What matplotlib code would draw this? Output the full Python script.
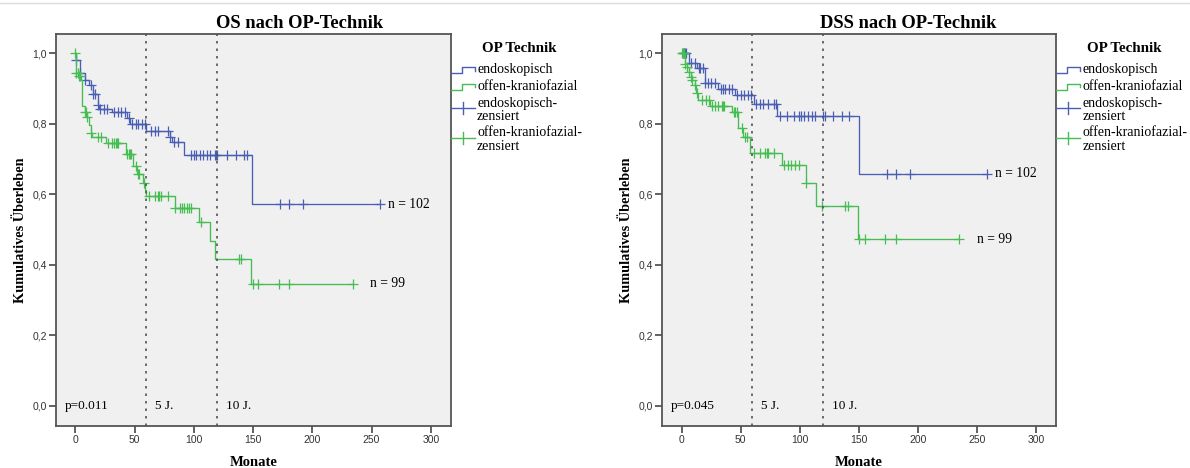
import numpy as np
import matplotlib.pyplot as plt
from matplotlib.lines import Line2D

W, H = 1190, 468

# ---- data ----
os_endo_t = [0, 1, 4, 8, 12, 15, 19, 20, 31, 44, 46, 60, 80, 82, 92, 149]
os_endo_s = [1.0, 0.98, 0.943, 0.924, 0.91, 0.886, 0.855, 0.843, 0.834, 0.816,
             0.80, 0.781, 0.764, 0.748, 0.712, 0.572]
os_endo_c = [1, 4, 8, 13, 15, 17, 19, 21, 24, 27, 33, 36, 39, 42, 45, 48, 51, 53,
             56, 59, 64, 67, 70, 78, 80, 83, 87, 98, 100, 102, 105, 108, 111, 114,
             118, 119, 120, 128, 136, 142, 145, 173, 180, 192, 257]

os_offen_t = [0, 1, 3, 5, 6, 8, 10, 12, 13, 14, 26, 43, 49, 52, 57, 59, 60, 84,
              104, 114, 118, 148]
os_offen_s = [1.0, 0.943, 0.935, 0.924, 0.85, 0.835, 0.82, 0.797, 0.773, 0.762,
              0.747, 0.715, 0.68, 0.658, 0.632, 0.613, 0.596, 0.562, 0.522, 0.469,
              0.417, 0.346]
os_offen_c = [0, 1, 2, 3, 4, 8, 9, 10, 13, 19, 22, 28, 31, 33, 34, 35, 36, 44, 45,
              46, 47, 51, 53, 54, 58, 62, 67, 70, 71, 72, 78, 84, 88, 90, 92, 94,
              96, 98, 106, 138, 140, 150, 154, 172, 180, 234]

dss_endo_t = [0, 6, 13, 20, 31, 45, 61, 81, 150]
dss_endo_s = [1.0, 0.972, 0.958, 0.915, 0.90, 0.882, 0.856, 0.822, 0.658]
dss_endo_c = [1, 2, 3, 4, 8, 11, 15, 16, 18, 20, 22, 25, 28, 33, 35, 37, 40, 43, 47,
              50, 53, 56, 59, 63, 66, 69, 73, 78, 80, 83, 89, 95, 99, 101, 104, 107,
              110, 113, 120, 121, 128, 136, 142, 174, 181, 193, 258]

dss_offen_t = [0, 3, 5, 6, 8, 9, 11, 12, 14, 24, 43, 48, 52, 58, 85, 105, 114, 149]
dss_offen_s = [1.0, 0.97, 0.962, 0.948, 0.934, 0.924, 0.91, 0.887, 0.868, 0.85,
               0.835, 0.787, 0.764, 0.718, 0.683, 0.631, 0.567, 0.473]
dss_offen_c = [0, 1, 2, 3, 5, 6, 8, 9, 11, 13, 17, 21, 23, 26, 28, 31, 34, 35, 36,
               44, 45, 47, 51, 54, 55, 61, 66, 71, 72, 73, 78, 87, 90, 93, 96, 99,
               105, 119, 138, 141, 150, 155, 172, 181, 235]

titles = ["OS nach OP-Technik", "DSS nach OP-Technik"]
p_values = ["p=0.011", "p=0.045"]
n_labels = ["n = 102", "n = 99"]
legend_labels = ["endoskopisch", "offen-kraniofazial", "endoskopisch-\nzensiert",
                 "offen-kraniofazial-\nzensiert"]

BLUE = "#4a5fb3"
GREEN = "#45bd52"
SERIF = ["Liberation Serif", "DejaVu Serif"]
SANS = ["Liberation Sans", "DejaVu Sans"]


def px(x, y):
    return x / W, 1 - y / H


def surv_at(times, surv, t):
    idx = np.searchsorted(times, t, side="right") - 1
    return np.asarray(surv)[idx]


def draw_curve(ax, times, surv, cens, color):
    last = max(max(times), max(cens))
    tt = list(times) + [last]
    ss = list(surv) + [surv[-1]]
    ax.step(tt, ss, where="post", color=color, lw=0.95)
    cy = surv_at(times, surv, cens)
    ax.plot(cens, cy, ls="none", marker="+", ms=7, mew=0.9, color=color)


fig = plt.figure(figsize=(W / 100, H / 100), dpi=100)
fig.add_artist(Line2D([0, 1], [1 - 3 / H, 1 - 3 / H], color="#dddddd", lw=1))

panels = [
    dict(left=55.7, right=451, title_x=300,
         curves=[(os_endo_t, os_endo_s, os_endo_c), (os_offen_t, os_offen_s, os_offen_c)]),
    dict(left=662, right=1056.3, title_x=908,
         curves=[(dss_endo_t, dss_endo_s, dss_endo_c), (dss_offen_t, dss_offen_s, dss_offen_c)]),
]

for i, pnl in enumerate(panels):
    l, r = pnl["left"], pnl["right"]
    ax = fig.add_axes([l / W, 1 - 426 / H, (r - l) / W, 392 / H])
    ax.set_facecolor("#f0f0f0")
    for sp in ax.spines.values():
        sp.set_color("#555555")
        sp.set_linewidth(1.3)

    (et, es, ec), (ot, osv, oc) = pnl["curves"]
    draw_curve(ax, et, es, ec, BLUE)
    draw_curve(ax, ot, osv, oc, GREEN)

    for xv in (60, 120):
        ax.axvline(xv, color="#555555", lw=1.2, ls=(0, (1.5, 3)))

    ax.set_xlim(-16.5, 317)
    ax.set_ylim(-0.057, 1.055)
    ax.set_xticks(np.arange(0, 301, 50))
    ax.set_yticks(np.arange(0, 1.01, 0.2))
    ax.set_yticklabels([f"{v:.1f}".replace(".", ",") for v in np.arange(0, 1.01, 0.2)])
    ax.tick_params(direction="out", length=5, width=1.3, color="#555555",
                   labelsize=7.5, labelcolor="#333333", pad=1.5)
    for lab in ax.get_xticklabels() + ax.get_yticklabels():
        lab.set_family(SANS)

    ax.set_xlabel("Monate", family=SERIF, fontweight="bold", fontsize=10.5, labelpad=8)
    ax.set_ylabel("Kumulatives Überleben", family=SERIF, fontweight="bold",
                  fontsize=10.3, labelpad=4)

    ax.text(-9, 0.0, p_values[i], family=SERIF, fontsize=9.5, va="center", ha="left")
    ax.text(67, 0.0, "5 J.", family=SERIF, fontsize=9.5, va="center", ha="left")
    ax.text(127, 0.0, "10 J.", family=SERIF, fontsize=9.5, va="center", ha="left")
    ax.text(max(ec) + 7, es[-1], n_labels[0], family=SERIF, fontsize=9.8, va="center")
    ax.text(max(oc) + 15, osv[-1], n_labels[1], family=SERIF, fontsize=9.8, va="center")

    fig.text(*px(pnl["title_x"], 23), titles[i], family=SERIF, fontweight="bold",
             fontsize=13.3, ha="center", va="center")

    # legend drawn by hand (SPSS style)
    x0 = r
    fig.text(*px(x0 + 68, 48), "OP Technik", family=SERIF, fontweight="bold",
             fontsize=10.8, ha="center", va="center")
    rows = [(70, BLUE, "step"), (86.5, GREEN, "step"), (108, BLUE, "cens"), (138, GREEN, "cens")]
    text_y = [70, 87, 109.5, 139.5]
    for (yy, col, kind), lab, ty in zip(rows, legend_labels, text_y):
        if kind == "step":
            xs = [x0, x0 + 11, x0 + 11, x0 + 24, x0 + 24]
            ys = [yy + 3, yy + 3, yy - 3, yy - 3, yy + 0.5]
            fig.add_artist(Line2D([px(a, 0)[0] for a in xs], [px(0, b)[1] for b in ys],
                                  color=col, lw=1.0))
        else:
            fig.add_artist(Line2D([px(x0, 0)[0], px(x0 + 24, 0)[0]],
                                  [px(0, yy)[1]] * 2, color=col, lw=1.0))
            fig.add_artist(Line2D([px(x0 + 12, 0)[0]] * 2,
                                  [px(0, yy - 6)[1], px(0, yy + 6)[1]], color=col, lw=1.0))
        fig.text(*px(x0 + 26, ty), lab, family=SERIF, fontsize=10, ha="left",
                 va="center", linespacing=1.0)

fig.savefig("out.png", dpi=100)
